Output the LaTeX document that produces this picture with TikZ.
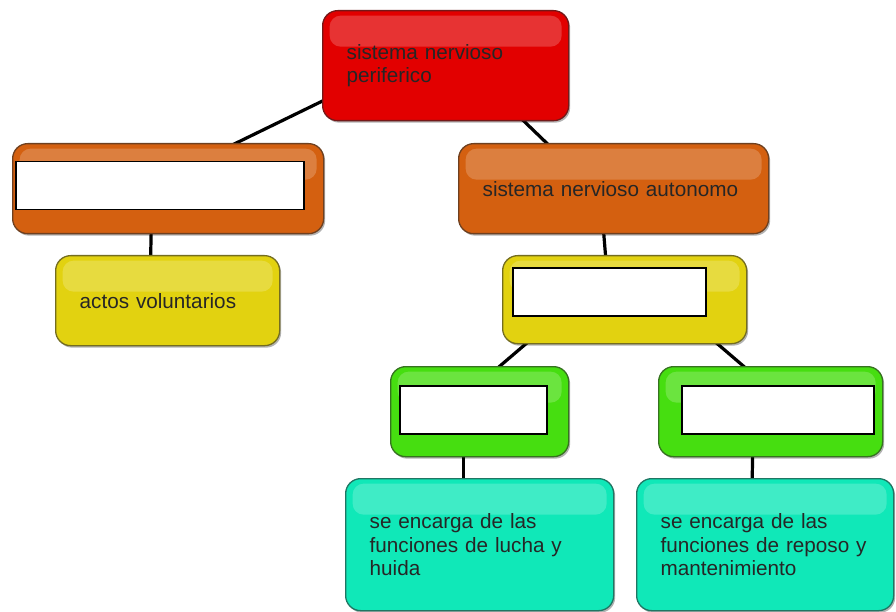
\documentclass[tikz,border=0pt]{standalone}
\usepackage{fontspec}
\setmainfont{Liberation Sans}
\usetikzlibrary{calc,backgrounds,shadows}
\definecolor{cred}{RGB}{226,0,0}
\definecolor{corange}{RGB}{212,96,16}
\definecolor{cyellow}{RGB}{226,210,16}
\definecolor{cgreen}{RGB}{70,222,16}
\definecolor{cteal}{RGB}{16,232,184}
\begin{document}
\begin{tikzpicture}[x=1pt,y=-1pt,
  glossy/.style={rounded corners=15pt, draw=#1!50!black!80!gray, line width=1.3pt, fill=#1,
    inner xsep=24pt, inner ysep=0pt, align=left, anchor=north west,
    font=\fontsize{20.7}{23.5}\selectfont, text=black!85,
    drop shadow={shadow xshift=1.5pt, shadow yshift=-2pt, opacity=0.3, fill=black},
    path picture={\fill[white,opacity=0.2,rounded corners=11pt]
      ([shift={(7pt,-5pt)}]path picture bounding box.north west) rectangle
      ([shift={(-7pt,-36pt)}]path picture bounding box.north east);}},
  whitebox/.style={draw=black, fill=white, line width=1.5pt, anchor=north west, inner sep=0pt},
  conn/.style={line width=3.2pt, black}]
\useasboundingbox (0,0) rectangle (896,612);

\node[glossy=cred, minimum width=246pt, minimum height=110pt, text width=198pt] (red) at (322,10) {sistema nervioso\\periferico};
\node[glossy=corange, minimum width=311pt, minimum height=90pt, text width=263pt] (orL) at (12,143) {};
\node[glossy=corange, minimum width=310pt, minimum height=90pt, text width=262pt] (orR) at (458,143) {sistema nervioso autonomo};
\node[glossy=cyellow, minimum width=224pt, minimum height=90pt, text width=176pt] (yelL) at (55,255) {actos voluntarios};
\node[glossy=cyellow, minimum width=244pt, minimum height=88pt, text width=196pt] (yelM) at (502,255) {};
\node[glossy=cgreen, minimum width=178pt, minimum height=90pt, text width=130pt] (grL) at (390,366) {};
\node[glossy=cgreen, minimum width=224pt, minimum height=90pt, text width=176pt] (grR) at (658,366) {};
\node[glossy=cteal, minimum width=268pt, minimum height=132pt, text width=220pt] (tealL) at (345,478) {se encarga de las\\funciones de lucha y\\huida};
\node[glossy=cteal, minimum width=257pt, minimum height=132pt, text width=209pt] (tealR) at (636,478) {se encarga de las\\funciones de reposo y\\mantenimiento};

\node[whitebox, minimum width=288pt, minimum height=48pt] (wOrL) at (15,161) {};
\node[whitebox, minimum width=193pt, minimum height=48pt] (wYelM) at (512,267) {};
\node[whitebox, minimum width=147pt, minimum height=48pt] (wGrL) at (399,385) {};
\node[whitebox, minimum width=192pt, minimum height=48pt] (wGrR) at (681,385) {};

\begin{scope}[on background layer]
\fill[white] (0,0) rectangle (896,612);
\draw[conn] ($(red.south west)+(4,-22)$) -- ($(orL.north)+(64,2)$);
\draw[conn] ($(red.south west)+(200,-2)$) -- ($(orR.north)+(-65,2)$);
\draw[conn] ($(orL.south)+(-17,-2)$) -- ($(yelL.north)+(-17,2)$);
\draw[conn] ($(orR.south)+(-10,-2)$) -- ($(yelM.north)+(-19,2)$);
\draw[conn] ($(yelM.south)+(-97,-2)$) -- ($(grL.north)+(18,2)$);
\draw[conn] ($(yelM.south)+(91,-2)$) -- ($(grR.north)+(-25,2)$);
\draw[conn] ($(grL.south)+(-16,-2)$) -- ($(tealL.north)+(-16,2)$);
\draw[conn] ($(grR.south)+(-18,-2)$) -- ($(tealR.north)+(-13,2)$);
\end{scope}
\end{tikzpicture}
\end{document}
